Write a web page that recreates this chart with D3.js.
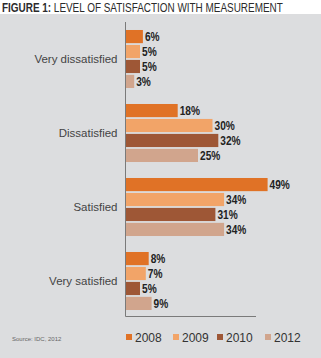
<!DOCTYPE html>
<html>
<head>
<meta charset="utf-8">
<script src="https://cdn.jsdelivr.net/npm/d3@7"></script>
<style>
  body { margin: 0; background: #fff; }
  svg { display: block; }
</style>
</head>
<body>
<div class="main"></div>
<script>
// satisfaction data, percent of respondents
var categories = ["Very dissatisfied", "Dissatisfied", "Satisfied", "Very satisfied"];
var years = ["2008", "2009", "2010", "2012"];
var v2008 = [6, 18, 49, 8];
var v2009 = [5, 30, 34, 7];
var v2010 = [5, 32, 31, 5];
var v2012 = [3, 25, 34, 9];
var series = [v2008, v2009, v2010, v2012];

const width = 321, height = 358;
const colors = ["#e07226", "#f2a468", "#9e5736", "#d1a58d"];
const sans = "'Liberation Sans', Arial, sans-serif";

var svg = d3.select(".main").append("svg")
    .attr("width", width)
    .attr("height", height);

// gray panel under the title
svg.append("rect")
    .attr("x", 0).attr("y", 14)
    .attr("width", width).attr("height", height - 14)
    .style("fill", "#dcdddf");

// title, squeezed horizontally to a condensed look
var titleG = svg.append("g");
var title = titleG.append("text")
    .attr("x", 0).attr("y", 0)
    .style("font-family", sans)
    .style("font-size", "12.5px")
    .style("fill", "#2b2b2b");
title.append("tspan").style("font-weight", "700").text("FIGURE 1:");
title.append("tspan").text(" LEVEL OF SATISFACTION WITH MEASUREMENT");
var tw = title.node().getComputedTextLength();
titleG.attr("transform", `translate(2,12) scale(${281 / tw},1)`);

var x = d3.scaleLinear()
    .domain([0, 45])
    .range([125.5, 256]);

var y0 = d3.scaleBand()
    .domain(categories)
    .range([22, 318])
    .paddingInner(0.216)
    .paddingOuter(0.108);

var y1 = d3.scaleBand()
    .domain(years)
    .range([0, y0.bandwidth()])
    .paddingInner(0.12);

var rows = [];
categories.forEach(function(c, i) {
    years.forEach(function(yr, j) {
        rows.push({cat: c, year: yr, value: series[j][i], color: colors[j]});
    });
});

var groups = svg.selectAll("g.bar")
    .data(rows)
    .enter()
    .append("g")
    .attr("class", "bar")
    .attr("transform", function(d) { return `translate(0,${y0(d.cat) + y1(d.year)})`; });

groups.append("rect")
    .attr("x", x(0))
    .attr("y", 0)
    .attr("width", function(d) { return x(d.value) - x(0); })
    .attr("height", y1.bandwidth())
    .style("fill", function(d) { return d.color; });

// value labels, narrowed horizontally
groups.append("text")
    .attr("transform", function(d) { return `translate(${x(d.value) + 2},${y1.bandwidth() / 2}) scale(0.78,1)`; })
    .attr("dy", "0.36em")
    .text(function(d) { return d.value + "%"; })
    .style("font-family", sans)
    .style("font-size", "13px")
    .style("font-weight", "700")
    .style("fill", "#222");

// axes lines, no ticks
svg.append("g")
    .attr("transform", `translate(${x(0)},0)`)
    .call(d3.axisLeft(y0).tickSize(0).tickPadding(8))
    .call(function(g) {
        g.select(".domain").attr("d", "M0,22V316.5").attr("stroke", "#7a7a7a");
        g.selectAll("text")
            .style("font-family", sans)
            .style("font-size", "11.5px")
            .style("fill", "#444");
    });

svg.append("line")
    .attr("x1", x(0)).attr("x2", x(45))
    .attr("y1", 316.5).attr("y2", 316.5)
    .attr("stroke", "#7a7a7a");

// legend
var legendX = [126, 173, 217, 265];
var legend = svg.selectAll("g.legend")
    .data(years)
    .enter()
    .append("g")
    .attr("class", "legend")
    .attr("transform", function(d, i) { return `translate(${legendX[i]},334)`; });

legend.append("rect")
    .attr("width", 6).attr("height", 6)
    .style("fill", function(d, i) { return colors[i]; });

legend.append("text")
    .attr("x", 9).attr("y", 7.5)
    .text(function(d) { return d; })
    .style("font-family", sans)
    .style("font-size", "12px")
    .style("fill", "#333");

svg.append("text")
    .attr("x", 12).attr("y", 341)
    .text("Source: IDC, 2012")
    .style("font-family", sans)
    .style("font-size", "6px")
    .style("fill", "#666");
</script>
</body>
</html>
